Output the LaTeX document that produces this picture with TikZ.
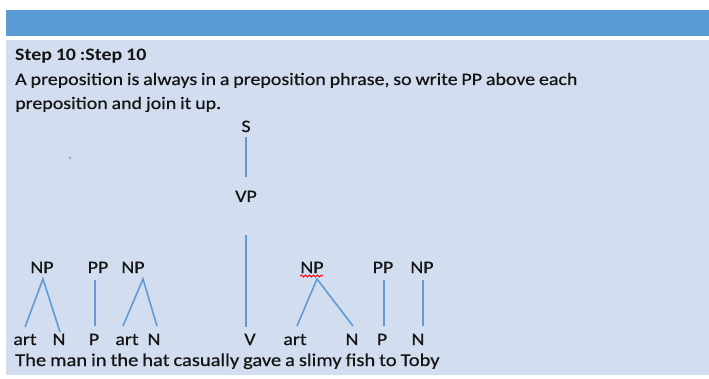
\documentclass[tikz,border=0pt]{standalone}
\usepackage{fontspec}
\setmainfont{Carlito}[FakeStretch=1.14,WordSpace=0.85,UprightFeatures={FakeBold=0.5},BoldFeatures={FakeBold=0}]
\usetikzlibrary{decorations.pathmorphing}
\definecolor{barblue}{HTML}{5B9BD5}
\definecolor{panel}{HTML}{D2DEEF}
\definecolor{treeline}{HTML}{5F9BD6}
\definecolor{ink}{HTML}{141414}
\begin{document}
\begin{tikzpicture}[x=1pt,y=-1pt,
  txt/.style={font=\fontsize{17.5}{20}\selectfont, text=ink, inner sep=0pt, anchor=base west},
  lab/.style={font=\fontsize{17.5}{20}\selectfont, text=ink, inner sep=0pt, anchor=base},
  branch/.style={draw=treeline, line width=1.6pt},
]
\useasboundingbox (0,0) rectangle (709,379);
\fill[white] (0,0) rectangle (709,379);
\fill[barblue] (6,10) rectangle (709,36.5);
\fill[panel] (6,40.5) rectangle (709,375);
\fill[barblue!70!panel] (70,158) circle (1.5);

% heading text
\node[txt, font=\fontsize{17.5}{20}\selectfont\bfseries] (title) at (15,61) {Step 10 :Step 10};
\node[txt] (line1) at (15,85) {A preposition is always in a preposition phrase, so write PP above each};
\node[txt] (line2) at (15,109) {preposition and join it up.};

% tree labels
\node[lab] (S) at (246,132) {S};
\node[lab] (VP) at (246,202) {VP};
\node[lab] (NPa) at (42,273) {NP};
\node[lab] (PPa) at (98,273) {PP};
\node[lab] (NPb) at (133,273) {NP};
\node[lab] (NPc) at (312,273) {NP};
\node[lab] (PPb) at (383,273) {PP};
\node[lab] (NPd) at (422,273) {NP};

\node[lab] (arta) at (25,345) {art};
\node[lab] (Na) at (59,345) {N};
\node[lab] (Pa) at (94,345) {P};
\node[lab] (artb) at (127,345) {art};
\node[lab] (Nb) at (154,345) {N};
\node[lab] (V) at (250,345) {V};
\node[lab] (artc) at (295,345) {art};
\node[lab] (Nc) at (352,345) {N};
\node[lab] (Pb) at (382,345) {P};
\node[lab] (Nd) at (418,345) {N};

\node[txt, font=\fontsize{18}{20}\selectfont] (sent) at (15,366) {The man in the hat casually gave a slimy fish to Toby};

% branch anchor points
\coordinate (apexa) at (43,279);
\coordinate (apexb) at (143,279);
\coordinate (apexc) at (317,279);
\coordinate (arta-t) at (25,327);
\coordinate (Na-t) at (60,332);
\coordinate (artb-t) at (123,326);
\coordinate (Nb-t) at (157,326);
\coordinate (artc-t) at (297,326);
\coordinate (Nc-t) at (353,326);

\draw[branch] (S.south |- 0,137) -- (S.south |- 0,177);
\draw[branch] (VP.south |- 0,235) -- (VP.south |- 0,327);
\draw[branch] (arta-t) -- (apexa) -- (Na-t);
\draw[branch] (95,280) -- (95,326);
\draw[branch] (artb-t) -- (apexb) -- (Nb-t);
\draw[branch] (artc-t) -- (apexc) -- (Nc-t);
\draw[branch] (384,280) -- (384,326);
\draw[branch] (423,280) -- (423,326);

% spelling underline
\draw[red, line width=0.9pt, decorate, decoration={snake, amplitude=1pt, segment length=4pt}]
  (NPc.base west) ++(0,3) -- ++(23,0);
\end{tikzpicture}
\end{document}
